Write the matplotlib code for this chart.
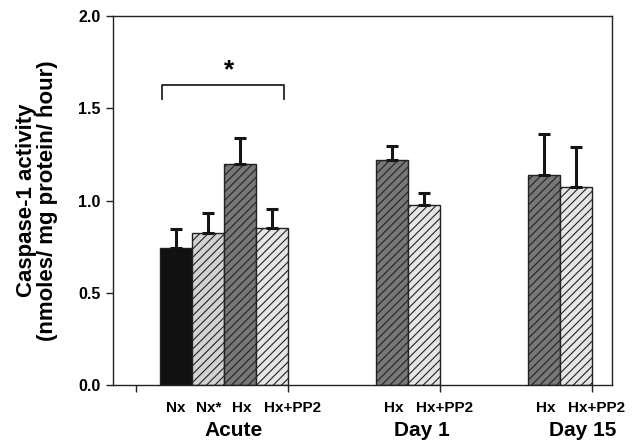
import matplotlib
matplotlib.use("Agg")
import matplotlib.pyplot as plt
import numpy as np

plt.rcParams['font.family'] = ['Liberation Sans', 'DejaVu Sans']
plt.rcParams['hatch.linewidth'] = 0.8

groups = ["Acute", "Day 1", "Day 15"]
bar_labels = [["Nx", "Nx*", "Hx", "Hx+PP2"], ["Hx", "Hx+PP2"], ["Hx", "Hx+PP2"]]
means = [[0.74, 0.825, 1.20, 0.852], [1.22, 0.975], [1.14, 1.073]]
errors = [[0.105, 0.105, 0.14, 0.10], [0.075, 0.065], [0.22, 0.215]]

styles = {
    "Nx": dict(color="#111111", hatch=None),
    "Nx*": dict(color="#d2d2d2", hatch="////"),
    "Hx": dict(color="#777777", hatch="////"),
    "Hx+PP2": dict(color="#e6e6e6", hatch="////"),
}
label_shift = {"Nx": 0.0, "Nx*": 0.03, "Hx": 0.07, "Hx+PP2": 0.65}
group_shift = [0.31, 0.44, 0.72]

fig = plt.figure(figsize=(6.33, 4.44), dpi=100)
ax = fig.add_axes([113/633, 1-385/444, 499/633, 369/444])

tick_pos = [0.72 + 4.75*k for k in range(4)]
group_ends = tick_pos[1:]

for g, (labs, ms, es) in enumerate(zip(bar_labels, means, errors)):
    n = len(labs)
    end = group_ends[g]
    xs = end - n + 0.5 + np.arange(n)
    for x, lab, m, e in zip(xs, labs, ms, es):
        st = styles[lab]
        ax.bar(x, m, width=1.0, color=st["color"], hatch=st["hatch"],
               edgecolor="#222222", linewidth=1.0, zorder=2)
        ax.errorbar(x, m, yerr=[[0], [e]], fmt="none", ecolor="#151515",
                    elinewidth=2.2, capsize=4, capthick=2.2, zorder=3)
        ax.text(x + label_shift[lab], -0.125, lab,
                ha="center", va="center", fontsize=11, fontweight="bold",
                clip_on=False)
    ax.text(xs.mean() + group_shift[g], -0.245, groups[g], ha="center",
            va="center", fontsize=15, fontweight="bold", clip_on=False)

# significance bracket
xl, xr = 1.44 + 0.08, 5.35
ax.plot([xl, xl, xr, xr], [1.55, 1.625, 1.625, 1.55], color="#222222", lw=1.3,
        zorder=3, clip_on=False)
ax.text((xl + xr)/2 + 0.2, 1.64, "*", ha="center", va="bottom", fontsize=19,
        fontweight="bold")

ax.set_xlim(0, 15.6)
ax.set_ylim(0, 2.0)
ax.set_yticks([0, 0.5, 1.0, 1.5, 2.0])
ax.set_yticklabels(["0.0", "0.5", "1.0", "1.5", "2.0"], fontsize=11.5, fontweight="bold")
ax.set_xticks(tick_pos)
ax.set_xticklabels([])
ax.tick_params(axis="both", direction="out", length=5, width=1.0, color="#222222")
ax.tick_params(axis="y", pad=4)
for s in ax.spines.values():
    s.set_linewidth(1.0)
    s.set_color("#222222")
ax.set_ylabel("Caspase-1 activity\n(nmoles/ mg protein/ hour)", fontsize=16,
              fontweight="bold", linespacing=1.0)
ax.yaxis.set_label_coords(-0.11, 0.5)

fig.savefig("out.png", dpi=100)
